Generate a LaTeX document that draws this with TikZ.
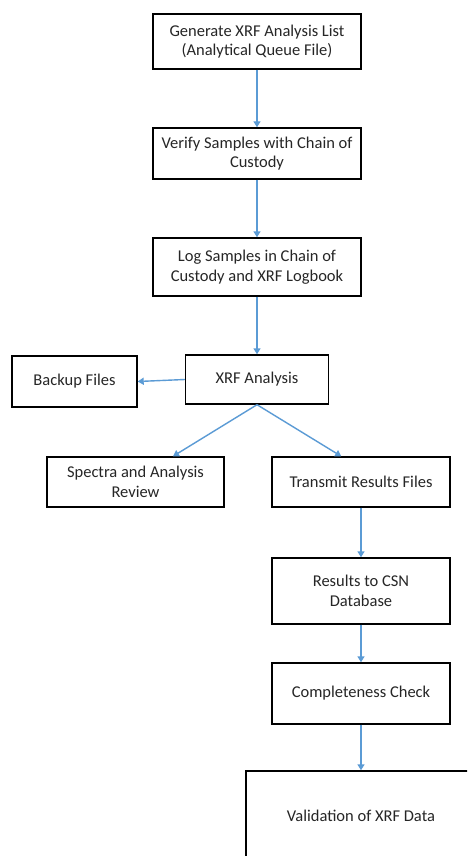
\documentclass[tikz,border=0pt]{standalone}
\usepackage{fontspec}
\setmainfont{Carlito}
\usetikzlibrary{arrows.meta,calc}
\definecolor{arrowblue}{HTML}{5B9BD5}
\definecolor{txt}{HTML}{262626}
\begin{document}
\begin{tikzpicture}[x=1pt,y=-1pt,
  box/.style={draw=black,line width=1.4pt,rectangle,align=center,inner sep=2pt,
    font=\fontsize{16.5}{19.5}\selectfont,text=txt},
  flow/.style={draw=arrowblue,line width=1.4pt,-{Triangle[length=6pt,width=7pt]}}]
\useasboundingbox (0,0) rectangle (467,856);
\clip (0,0) rectangle (467,856);
\fill[white] (0,0) rectangle (467,856);
\node[box,minimum width=208pt,minimum height=55pt] (gen) at (257,41.5) {Generate XRF Analysis List\\(Analytical Queue File)};
\node[box,minimum width=208pt,minimum height=51pt] (ver) at (257,153.5) {Verify Samples with Chain of\\Custody};
\node[box,minimum width=208pt,minimum height=58pt] (log) at (257,267) {Log Samples in Chain of\\Custody and XRF Logbook};
\node[box,minimum width=143pt,minimum height=49pt] (xrf) at (257,379.5) {XRF Analysis};
\node[box,minimum width=125pt,minimum height=51pt] (bak) at (74.5,381.5) {Backup Files};
\node[box,minimum width=177pt,minimum height=50pt] (spe) at (135.5,482) {Spectra and Analysis\\Review};
\node[box,minimum width=178pt,minimum height=50pt] (tra) at (361,482) {Transmit Results Files};
\node[box,minimum width=178pt,minimum height=66pt] (res) at (361,591) {Results to CSN\\Database};
\node[box,minimum width=178pt,minimum height=61pt] (com) at (361,693.5) {Completeness Check};
\node[box,minimum width=230pt,minimum height=89pt] (val) at (361,815.5) {Validation of XRF Data};
\draw[flow] (gen.south) -- (ver.north);
\draw[flow] (ver.south) -- (log.north);
\draw[flow] (log.south) -- (xrf.north);
\draw[flow] (xrf.west) -- (bak.east);
\draw[flow] (xrf.south) -- ($(spe.north west)!0.71!(spe.north east)$);
\draw[flow] (xrf.south) -- ($(tra.north west)!0.39!(tra.north east)$);
\draw[flow] (tra.south) -- (res.north);
\draw[flow] (res.south) -- (com.north);
\draw[flow] (com.south) -- (val.north);
\end{tikzpicture}
\end{document}
